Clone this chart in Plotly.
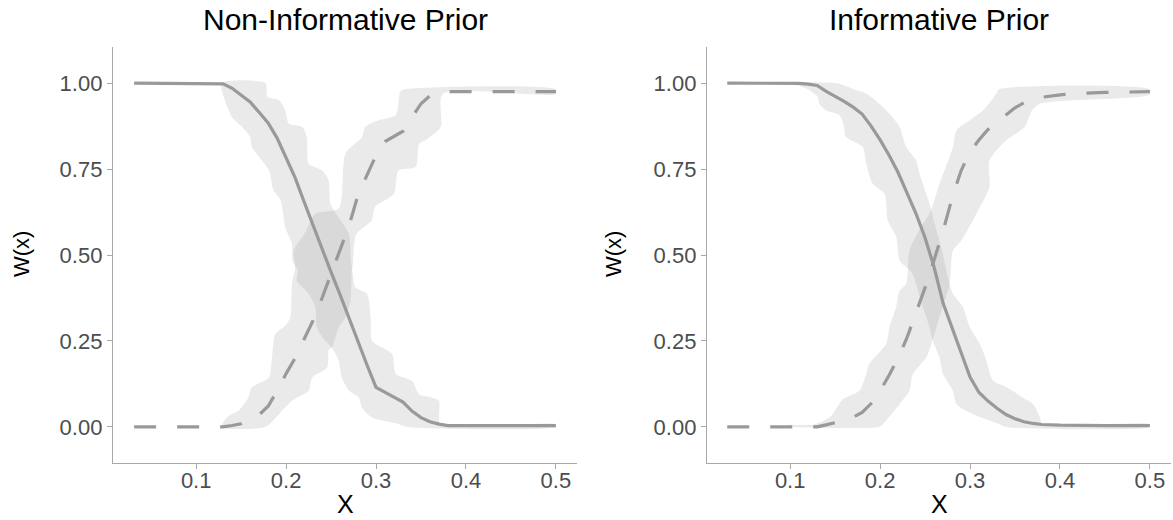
import plotly.graph_objects as go

# ---------------------------------------------------------------- data
panel_titles = ["Non-Informative Prior", "Informative Prior"]
x_tick_vals = [0.1, 0.2, 0.3, 0.4, 0.5]
x_tick_text = ["0.1", "0.2", "0.3", "0.4", "0.5"]
y_tick_vals = [0.0, 0.25, 0.5, 0.75, 1.0]
y_tick_text = ["0.00", "0.25", "0.50", "0.75", "1.00"]

# Non-informative prior: posterior mean curves
ni_x = [0.031, 0.12, 0.13, 0.14, 0.15, 0.16, 0.17, 0.18, 0.19, 0.20, 0.21, 0.22,
        0.23, 0.24, 0.25, 0.26, 0.27, 0.28, 0.29, 0.30, 0.31, 0.32, 0.33, 0.34,
        0.35, 0.36, 0.37, 0.38, 0.5]
ni_solid = [1.0, 1.0, 0.998, 0.985, 0.965, 0.945, 0.915, 0.884, 0.84, 0.785, 0.725,
            0.655, 0.585, 0.515, 0.45, 0.385, 0.315, 0.245, 0.18, 0.115, 0.1, 0.087,
            0.072, 0.046, 0.027, 0.015, 0.008, 0.004, 0.004]
ni_dashed = [0.0, 0.0, 0.0, 0.004, 0.009, 0.02, 0.035, 0.06, 0.105, 0.155, 0.2,
             0.255, 0.31, 0.375, 0.445, 0.52, 0.585, 0.675, 0.73, 0.79, 0.83, 0.845,
             0.86, 0.9, 0.94, 0.963, 0.973, 0.975, 0.975]

# Non-informative prior: credible bands (lower / upper edges)
ni_solid_lo_x = [0.128, 0.132, 0.140, 0.151, 0.160, 0.162, 0.181, 0.186, 0.194, 0.199,
                 0.2065, 0.207, 0.213, 0.212, 0.225, 0.2326, 0.234, 0.2437, 0.251,
                 0.2586, 0.262, 0.270, 0.281, 0.2845, 0.2957, 0.3254, 0.335, 0.5]
ni_solid_lo_y = [1.0, 0.95, 0.90, 0.873, 0.843, 0.814, 0.746, 0.688, 0.659, 0.581,
                 0.533, 0.484, 0.455, 0.425, 0.387, 0.348, 0.29, 0.25, 0.231, 0.192,
                 0.144, 0.105, 0.085, 0.056, 0.027, 0.008, 0.0, 0.0]
ni_solid_hi_x = [0.128, 0.177, 0.179, 0.192, 0.199, 0.203, 0.2177, 0.223, 0.225, 0.24,
                 0.2474, 0.2493, 0.27, 0.272, 0.274, 0.277, 0.29, 0.294, 0.2957, 0.307,
                 0.318, 0.322, 0.340, 0.3477, 0.3625, 0.37, 0.372, 0.5]
ni_solid_hi_y = [1.0, 1.0, 0.96, 0.95, 0.921, 0.882, 0.873, 0.843, 0.766, 0.746,
                 0.717, 0.649, 0.56, 0.484, 0.45, 0.406, 0.387, 0.319, 0.25, 0.231,
                 0.212, 0.154, 0.134, 0.095, 0.085, 0.076, 0.008, 0.008]
ni_dashed_lo_x = [0.128, 0.177, 0.192, 0.2065, 0.225, 0.229, 0.2456, 0.2474, 0.251,
                  0.2586, 0.266, 0.2716, 0.273, 0.274, 0.278, 0.295, 0.299, 0.32,
                  0.325, 0.344, 0.348, 0.355, 0.372, 0.374, 0.5]
ni_dashed_lo_y = [0.0, 0.0, 0.037, 0.076, 0.105, 0.144, 0.173, 0.225, 0.231, 0.29,
                  0.319, 0.367, 0.455, 0.466, 0.56, 0.60, 0.64, 0.678, 0.746, 0.756,
                  0.824, 0.834, 0.873, 0.968, 0.968]
ni_dashed_hi_x = [0.128, 0.136, 0.147, 0.158, 0.162, 0.181, 0.184, 0.188, 0.199,
                  0.2047, 0.2065, 0.210, 0.2085, 0.220, 0.2326, 0.2586, 0.266, 0.2845,
                  0.288, 0.303, 0.322, 0.327, 0.332, 0.5]
ni_dashed_hi_y = [0.0, 0.032, 0.047, 0.085, 0.115, 0.144, 0.192, 0.27, 0.294, 0.319,
                  0.416, 0.464, 0.513, 0.56, 0.62, 0.635, 0.795, 0.843, 0.873, 0.892,
                  0.907, 0.975, 0.982, 0.982]

# Informative prior: posterior mean curves
in_x = [0.03, 0.10, 0.11, 0.12, 0.13, 0.14, 0.15, 0.16, 0.17, 0.18, 0.19, 0.20, 0.21,
        0.22, 0.23, 0.24, 0.25, 0.26, 0.27, 0.28, 0.29, 0.30, 0.31, 0.32, 0.33, 0.34,
        0.35, 0.36, 0.37, 0.38, 0.40, 0.42, 0.45, 0.5]
in_solid = [1.0, 1.0, 0.999, 0.997, 0.993, 0.976, 0.962, 0.947, 0.93, 0.91, 0.875,
            0.835, 0.79, 0.74, 0.68, 0.62, 0.55, 0.465, 0.36, 0.29, 0.22, 0.145, 0.1,
            0.075, 0.054, 0.036, 0.024, 0.015, 0.01, 0.007, 0.005, 0.004, 0.004, 0.004]
in_dashed = [0.0, 0.0, 0.0, 0.0, 0.0, 0.006, 0.012, 0.019, 0.028, 0.042, 0.068, 0.105,
             0.15, 0.2, 0.26, 0.33, 0.405, 0.485, 0.57, 0.665, 0.745, 0.8, 0.835, 0.865,
             0.887, 0.908, 0.928, 0.943, 0.953, 0.959, 0.966, 0.97, 0.973, 0.975]

# Informative prior: credible bands (lower / upper edges)
in_solid_lo_x = [0.106, 0.108, 0.121, 0.1305, 0.1324, 0.140, 0.1547, 0.160, 0.162,
                 0.1807, 0.1845, 0.1918, 0.205, 0.2085, 0.218, 0.2216, 0.235, 0.240,
                 0.2475, 0.255, 0.2587, 0.266, 0.270, 0.281, 0.285, 0.3034, 0.333,
                 0.340, 0.5]
in_solid_lo_y = [1.0, 0.995, 0.98, 0.96, 0.94, 0.92, 0.907, 0.873, 0.843, 0.814,
                 0.766, 0.707, 0.678, 0.60, 0.552, 0.484, 0.45, 0.416, 0.348, 0.29,
                 0.25, 0.202, 0.154, 0.105, 0.066, 0.037, 0.008, 0.0, 0.0]
in_solid_hi_x = [0.106, 0.151, 0.173, 0.1845, 0.1993, 0.214, 0.2216, 0.229, 0.240,
                 0.2438, 0.255, 0.2587, 0.265, 0.270, 0.275, 0.281, 0.2922, 0.2997,
                 0.311, 0.3183, 0.3257, 0.3406, 0.359, 0.3703, 0.3778, 0.380, 0.5]
in_solid_hi_y = [1.0, 1.0, 0.98, 0.97, 0.94, 0.90, 0.873, 0.814, 0.775, 0.737, 0.649,
                 0.61, 0.55, 0.50, 0.44, 0.387, 0.348, 0.29, 0.241, 0.192, 0.134,
                 0.115, 0.085, 0.066, 0.027, 0.008, 0.008]
in_dashed_lo_x = [0.100, 0.199, 0.203, 0.2216, 0.2327, 0.2364, 0.2514, 0.2568, 0.266,
                  0.2773, 0.281, 0.2904, 0.307, 0.3215, 0.3215, 0.3403, 0.361, 0.369,
                  0.3775, 0.4146, 0.5]
in_dashed_lo_y = [0.0, 0.0, 0.008, 0.066, 0.105, 0.154, 0.202, 0.24, 0.319, 0.416,
                  0.513, 0.542, 0.62, 0.698, 0.775, 0.834, 0.873, 0.921, 0.94, 0.95,
                  0.967]
in_dashed_hi_x = [0.100, 0.128, 0.145, 0.1583, 0.177, 0.1845, 0.188, 0.2067, 0.2104,
                  0.2178, 0.2216, 0.229, 0.2327, 0.245, 0.255, 0.2662, 0.281, 0.285,
                  0.2997, 0.3145, 0.3294, 0.332, 0.5]
in_dashed_hi_y = [0.006, 0.008, 0.03, 0.08, 0.105, 0.154, 0.183, 0.241, 0.29, 0.348,
                  0.396, 0.416, 0.513, 0.58, 0.62, 0.707, 0.814, 0.863, 0.892, 0.921,
                  0.97, 0.982, 0.982]

# ---------------------------------------------------------------- style
W, H = 1173, 520
FONT = "Liberation Sans, Arial, Helvetica, sans-serif"
BAND = "rgba(150,150,150,0.2)"
LINE = "#999999"
AXIS = "#a8a8a8"
DASH = "22px,21px"

fig = go.Figure()


def band(xa, ya, lo_x, lo_y, hi_x, hi_y):
    fig.add_trace(go.Scatter(
        x=list(lo_x) + list(hi_x)[::-1], y=list(lo_y) + list(hi_y)[::-1],
        mode="lines", fill="toself", fillcolor=BAND,
        line=dict(width=0, shape="spline", smoothing=0.7),
        hoverinfo="skip", showlegend=False, xaxis=xa, yaxis=ya))


def curve(xa, ya, x, y, dash):
    fig.add_trace(go.Scatter(
        x=x, y=y, mode="lines", line=dict(color=LINE, width=3.2, dash=dash),
        showlegend=False, xaxis=xa, yaxis=ya))


band("x", "y", ni_solid_lo_x, ni_solid_lo_y, ni_solid_hi_x, ni_solid_hi_y)
band("x", "y", ni_dashed_lo_x, ni_dashed_lo_y, ni_dashed_hi_x, ni_dashed_hi_y)
curve("x", "y", ni_x, ni_solid, "solid")
curve("x", "y", ni_x, ni_dashed, DASH)

band("x2", "y2", in_solid_lo_x, in_solid_lo_y, in_solid_hi_x, in_solid_hi_y)
band("x2", "y2", in_dashed_lo_x, in_dashed_lo_y, in_dashed_hi_x, in_dashed_hi_y)
curve("x2", "y2", in_x, in_solid, "solid")
curve("x2", "y2", in_x, in_dashed, DASH)

# panel geometry in pixels
left_px = [(113, 577), (707, 1171)]
top_px, bottom_px = 47, 463
y_domain = [1 - bottom_px / H, 1 - top_px / H]

axis_style = dict(
    showgrid=False, zeroline=False, showline=True, linecolor=AXIS, linewidth=1.3,
    ticks="outside", ticklen=5, tickwidth=1.3, tickcolor=AXIS,
    tickfont=dict(family=FONT, size=22, color="#4d4d4d"),
)

layout = dict(
    width=W, height=H, margin=dict(l=0, r=0, t=0, b=0),
    paper_bgcolor="white", plot_bgcolor="white", showlegend=False,
)
annotations = []
for i, (x0, x1) in enumerate(left_px):
    sfx = "" if i == 0 else str(i + 1)
    layout["xaxis" + sfx] = dict(
        axis_style, domain=[x0 / W, x1 / W], range=[0.0075, 0.5235],
        tickvals=x_tick_vals, ticktext=x_tick_text, anchor="y" + sfx,
        ticklabelstandoff=-8)
    layout["yaxis" + sfx] = dict(
        axis_style, domain=y_domain, range=[-0.105, 1.105],
        tickvals=y_tick_vals, ticktext=y_tick_text, anchor="x" + sfx)
    cx = (x0 + x1) / 2 / W
    annotations.append(dict(
        text=panel_titles[i], x=cx, y=1 - 20 / H, xref="paper", yref="paper",
        xanchor="center", yanchor="middle", showarrow=False,
        font=dict(family=FONT, size=30, color="black")))
    annotations.append(dict(
        text="X", x=cx, y=0, xref="paper", yref="paper",
        xanchor="center", yanchor="bottom", showarrow=False,
        font=dict(family=FONT, size=25, color="black")))
    annotations.append(dict(
        text="W(x)", x=(21 + i * 592) / W, y=1 - 254 / H, xref="paper",
        yref="paper", xanchor="center", yanchor="middle", showarrow=False,
        textangle=-90, font=dict(family=FONT, size=22, color="black")))
layout["annotations"] = annotations

fig.update_layout(**layout)
fig.write_html("out.html")
